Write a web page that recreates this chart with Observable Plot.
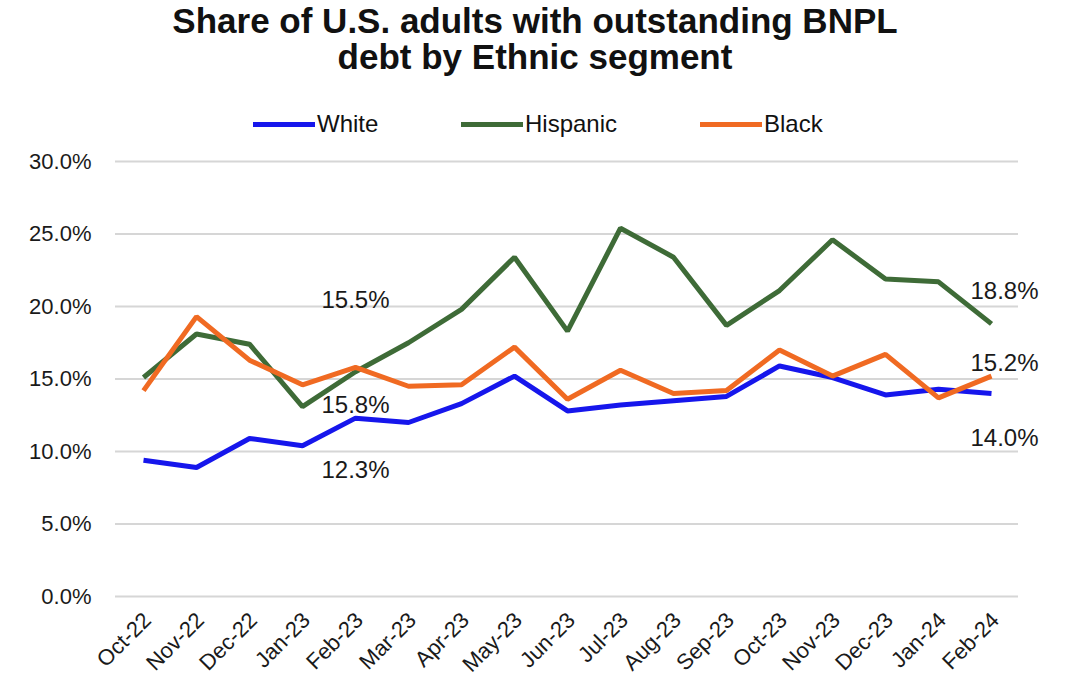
<!DOCTYPE html>
<html>
<head>
<meta charset="utf-8">
<script src="https://cdn.jsdelivr.net/npm/d3@7"></script>
<script src="https://cdn.jsdelivr.net/npm/@observablehq/plot@0.6"></script>
<style>
  body { margin: 0; background: #fff; font-family: "Liberation Sans", Arial, sans-serif; color: #111; }
  #wrap { position: relative; width: 1070px; height: 695px; overflow: hidden; }
  #title { position: absolute; top: 3px; left: 0; width: 1070px; text-align: center; font-weight: bold; font-size: 35px; line-height: 36px; }
  #legend { position: absolute; top: 110px; left: 0; width: 1070px; height: 28px; }
  .item { position: absolute; top: 0; height: 28px; display: flex; align-items: center; font-size: 24px; }
  .sw { width: 62px; height: 5px; margin-right: 2px; }
  #chart { position: absolute; top: 140px; left: 0; }
</style>
</head>
<body>
<div id="wrap">
  <div id="title">Share of U.S. adults with outstanding BNPL<br>debt by Ethnic segment</div>
  <div id="legend"></div>
  <div id="chart"></div>
</div>
<script>
// Monthly share of adults carrying BNPL debt, in percent
const months = ["Oct-22","Nov-22","Dec-22","Jan-23","Feb-23","Mar-23","Apr-23","May-23","Jun-23",
                "Jul-23","Aug-23","Sep-23","Oct-23","Nov-23","Dec-23","Jan-24","Feb-24"];
const white    = [9.4, 8.9, 10.9, 10.4, 12.3, 12.0, 13.3, 15.2, 12.8, 13.2, 13.5, 13.8, 15.9, 15.1, 13.9, 14.3, 14.0];
const hispanic = [15.1, 18.1, 17.4, 13.1, 15.5, 17.5, 19.8, 23.4, 18.3, 25.4, 23.4, 18.7, 21.1, 24.6, 21.9, 21.7, 18.8];
const black    = [14.2, 19.3, 16.3, 14.6, 15.8, 14.5, 14.6, 17.2, 13.6, 15.6, 14.0, 14.2, 17.0, 15.2, 16.7, 13.7, 15.2];
const seriesNames = ["White", "Hispanic", "Black"];
const yTicks = [0, 5, 10, 15, 20, 25, 30];

const colors = {White: "#1616ec", Hispanic: "#3e6b37", Black: "#f06a22"};
const seriesValues = {White: white, Hispanic: hispanic, Black: black};

const rows = seriesNames.flatMap(name =>
  seriesValues[name].map((v, i) => ({series: name, month: months[i], value: v})));

const fmt = v => v.toFixed(1) + "%";
const pick = (name, month) => rows.find(r => r.series === name && r.month === month);

// legend
const legend = document.getElementById("legend");
const legendLeft = {White: 253, Hispanic: 461, Black: 700};
for (const name of seriesNames) {
  const item = document.createElement("div");
  item.className = "item";
  item.style.left = legendLeft[name] + "px";
  const sw = document.createElement("span");
  sw.className = "sw";
  sw.style.background = colors[name];
  const t = document.createElement("span");
  t.textContent = name;
  item.append(sw, t);
  legend.append(item);
}

const labelStyle = {text: d => fmt(d.value), fontSize: 24, fill: "#1a1a1a", textAnchor: "middle", lineAnchor: "middle"};

const chart = Plot.plot({
  width: 1070,
  height: 555,
  marginTop: 21,
  marginBottom: 99,
  marginLeft: 115,
  marginRight: 52,
  style: {fontFamily: "'Liberation Sans', Arial, sans-serif", background: "transparent"},
  x: {type: "point", domain: months, padding: 0.5},
  y: {domain: [0, 30]},
  marks: [
    Plot.gridY(yTicks, {stroke: "#d6d6d6", strokeOpacity: 1, strokeWidth: 2}),
    Plot.axisY(yTicks, {tickSize: 0, tickPadding: 24, fontSize: 22, fill: "#1a1a1a", tickFormat: fmt, label: null}),
    Plot.axisX({tickSize: 0, tickRotate: -45, fontSize: 22, fill: "#1a1a1a", tickPadding: 8, dx: 4, dy: 12, label: null}),
    ...seriesNames.map(name =>
      Plot.line(rows.filter(r => r.series === name), {
        x: "month", y: "value", stroke: colors[name], strokeWidth: 5, strokeLinejoin: "miter", strokeLinecap: "butt"
      })),
    // value labels for Feb-23
    Plot.text([pick("Hispanic", "Feb-23")], {x: "month", y: "value", dy: -71, ...labelStyle}),
    Plot.text([pick("Black", "Feb-23")], {x: "month", y: "value", dy: 38, ...labelStyle}),
    Plot.text([pick("White", "Feb-23")], {x: "month", y: "value", dy: 52, ...labelStyle}),
    // value labels for the latest month
    Plot.text([pick("Hispanic", "Feb-24")], {x: "month", y: "value", dx: 13, dy: -33, ...labelStyle}),
    Plot.text([pick("Black", "Feb-24")], {x: "month", y: "value", dx: 13, dy: -13, ...labelStyle}),
    Plot.text([pick("White", "Feb-24")], {x: "month", y: "value", dx: 13, dy: 45, ...labelStyle})
  ]
});
document.getElementById("chart").append(chart);
</script>
</body>
</html>
